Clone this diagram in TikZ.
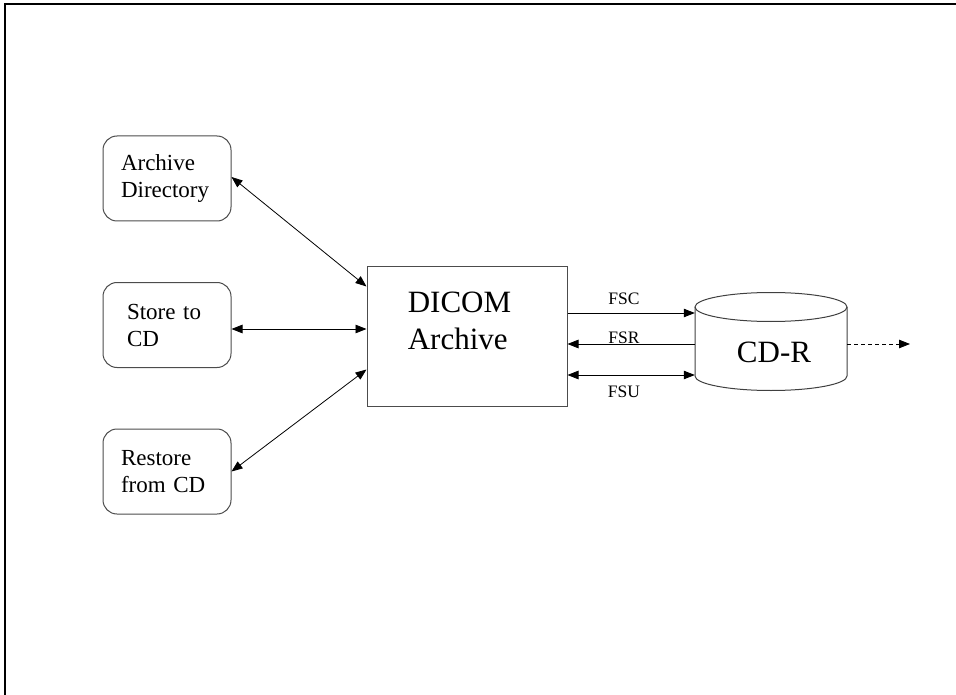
\documentclass[tikz,border=0pt]{standalone}
\usepackage{fontspec}
\setmainfont{Liberation Serif}
\usetikzlibrary{arrows.meta,calc}
\begin{document}
\begin{tikzpicture}[x=1pt,y=-1pt,
  sbox/.style={draw=black!70, line width=1pt, rounded corners=14pt, minimum width=128pt, minimum height=85pt, inner sep=0pt, align=left, font=\fontsize{23}{27}\selectfont},
  bigbox/.style={draw=black!70, line width=1pt, minimum width=200pt, minimum height=139pt, inner sep=0pt},
  bigtxt/.style={inner sep=0pt, align=left, font=\fontsize{31}{37}\selectfont},
  lbl/.style={inner sep=0pt, anchor=base, font=\fontsize{17.5}{20}\selectfont},
  arrtip/.tip={Triangle[length=11pt,width=8.5pt]},
  arr/.style={-arrtip, line width=0.8pt},
  dbl/.style={arrtip-arrtip, line width=0.8pt}]
\useasboundingbox (0,0) rectangle (956,695);
\draw[line width=1.6pt] (5,695) -- (5,4) -- (956,4);

% left boxes
\node[sbox, text width=92pt] (adir) at (167,178.5) {Archive\\Directory};
\node[sbox, text width=80pt] (store) at (167,325) {Store to\\CD};
\node[sbox, text width=92pt] (restore) at (167,471.5) {Restore\\from CD};

% DICOM archive
\node[bigbox] (dicom) at (467,336.5) {};
\node[bigtxt] (dicomtxt) at (459.5,321) {DICOM\\Archive};

% CD-R cylinder
\node[minimum width=152pt, minimum height=97pt, inner sep=0pt] (cyl) at (771,341.5) {};
\draw[draw=black!75, line width=1pt] (695,307) -- (695,376) arc (180:360:76pt and 14.5pt) -- (847,307);
\draw[draw=black!75, line width=1pt] (771,307) ellipse [x radius=76pt, y radius=14.5pt];
\node[bigtxt] (cdrtxt) at (774,352.5) {CD-R};

% helper levels
\coordinate (yfsc) at (0,313);
\coordinate (yfsr) at (0,344);
\coordinate (yfsu) at (0,375);
\coordinate (ystore) at (0,329);
\coordinate (dashend) at (910,344);

% left connectors
\draw[dbl] (adir.east |- 0,177) -- ($(dicom.north west)+(0,20)$);
\draw[dbl] (store.east |- ystore) -- (dicom.west |- ystore);
\draw[dbl] (restore.east) -- ($(dicom.north west)+(0,103)$);

% right connectors
\draw[arr] (dicom.east |- yfsc) -- (cyl.west |- yfsc);
\draw[arr] (cyl.west |- yfsr) -- (dicom.east |- yfsr);
\draw[dbl] (dicom.east |- yfsu) -- (cyl.west |- yfsu);
\draw[arr, dash pattern=on 4pt off 3pt] (cyl.east |- yfsr) -- (dashend);

\node[lbl] (fsc) at (624,305) {FSC};
\node[lbl] (fsr) at (624,343) {FSR};
\node[lbl] (fsu) at (624,397) {FSU};
\end{tikzpicture}
\end{document}
